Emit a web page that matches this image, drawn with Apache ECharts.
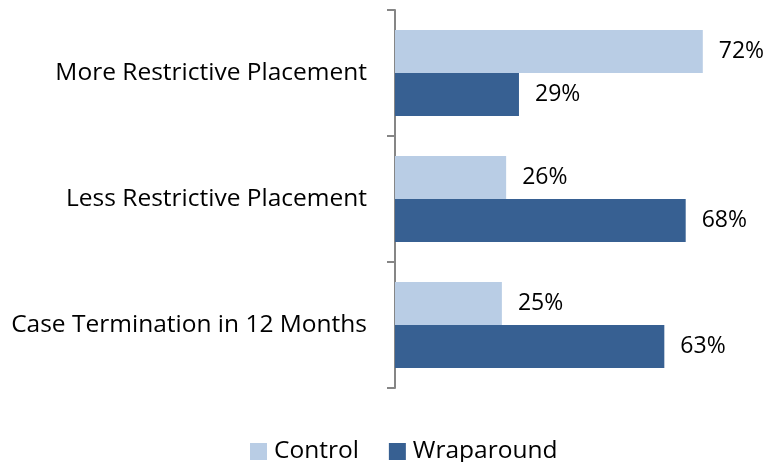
<!DOCTYPE html>
<html><head><meta charset="utf-8">
<script src="https://cdn.jsdelivr.net/npm/echarts@6/dist/echarts.min.js"></script>
<style>html,body{margin:0;padding:0;background:#fff}#c{width:774px;height:462px}</style>
</head><body><div id="c"></div>
<script>
var categories = ['More Restrictive Placement', 'Less Restrictive Placement', 'Case Termination in 12 Months'];
var controlValues = [72, 26, 25];
var wraparoundValues = [29, 68, 63];
var seriesNames = ['Control', 'Wraparound'];

var font = 'Open Sans';
var chart = echarts.init(document.getElementById('c'));
chart.setOption({
  animation: false,
  textStyle: {fontFamily: font},
  grid: {left: 395, top: 10, width: 342, height: 378, containLabel: false},
  legend: {
    top: 434, left: 245, itemWidth: 17, itemHeight: 17, itemGap: 30, icon: 'rect',
    textStyle: {fontSize: 24.5, color: '#000', fontFamily: font, padding: [0, 0, 0, 2]},
    data: seriesNames
  },
  xAxis: {type: 'value', min: 0, max: 80, show: false},
  yAxis: {
    type: 'category', data: categories, inverse: true,
    axisLine: {lineStyle: {color: '#868686', width: 2}},
    axisTick: {show: true, length: 8, lineStyle: {color: '#868686', width: 2}},
    axisLabel: {fontSize: 24.5, color: '#000', margin: 28, fontFamily: font}
  },
  series: [
    {name: seriesNames[0], type: 'bar', data: controlValues, barGap: '0%', barCategoryGap: '31.7%',
     itemStyle: {color: '#b9cde5'},
     label: {show: true, position: 'right', distance: 16, fontSize: 23, color: '#000', formatter: '{c}%', fontFamily: font}},
    {name: seriesNames[1], type: 'bar', data: wraparoundValues, barGap: '0%', barCategoryGap: '31.7%',
     itemStyle: {color: '#376092'},
     label: {show: true, position: 'right', distance: 16, fontSize: 23, color: '#000', formatter: '{c}%', fontFamily: font}}
  ]
});
</script></body></html>
